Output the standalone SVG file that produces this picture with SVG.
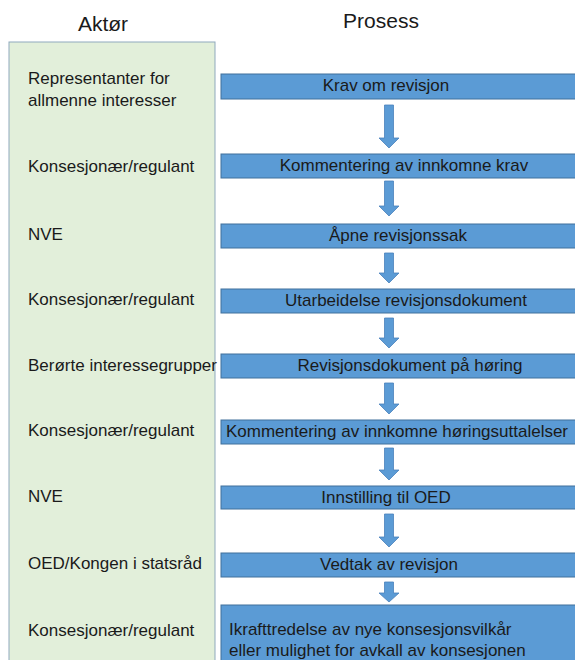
<svg xmlns="http://www.w3.org/2000/svg" width="575" height="660" viewBox="0 0 575 660">
<defs>
<style>
.t{font-family:"Liberation Sans",Arial,sans-serif;font-size:17px;fill:#1a1a1a}
.h{font-family:"Liberation Sans",Arial,sans-serif;font-size:21px;fill:#1a1a1a;text-anchor:middle}
.c{text-anchor:middle}
.box{fill:#5b9bd5;stroke:#41719c;stroke-width:1}
.arr{fill:#5b9bd5;stroke:#4a82bb;stroke-width:0.8}
</style>
</defs>
<rect width="575" height="660" fill="#ffffff"/>
<text class="h" x="103" y="31">Aktør</text>
<text class="h" x="381" y="28">Prosess</text>
<g id="actors">
<rect x="9" y="42" width="206" height="630" fill="#e2efda" stroke="#8fa9bd" stroke-width="1"/>
<text class="t" x="28" y="84">Representanter for</text>
<text class="t" x="28" y="106">allmenne interesser</text>
<text class="t" x="28" y="172">Konsesjonær/regulant</text>
<text class="t" x="28" y="240">NVE</text>
<text class="t" x="28" y="305">Konsesjonær/regulant</text>
<text class="t" x="28" y="371">Berørte interessegrupper</text>
<text class="t" x="28" y="436">Konsesjonær/regulant</text>
<text class="t" x="28" y="502">NVE</text>
<text class="t" x="28" y="569">OED/Kongen i statsråd</text>
<text class="t" x="28" y="636">Konsesjonær/regulant</text>
</g>
<g id="p1"><rect class="box" x="221" y="74" width="360" height="25"/><text class="t c" x="386" y="91">Krav om revisjon</text></g>
<g id="p2"><rect class="box" x="221" y="154" width="360" height="24"/><text class="t c" x="404" y="171">Kommentering av innkomne krav</text></g>
<g id="p3"><rect class="box" x="221" y="224" width="360" height="24"/><text class="t c" x="398" y="241">Åpne revisjonssak</text></g>
<g id="p4"><rect class="box" x="221" y="289" width="360" height="24"/><text class="t c" x="406" y="306">Utarbeidelse revisjonsdokument</text></g>
<g id="p5"><rect class="box" x="221" y="354" width="360" height="24"/><text class="t c" x="410" y="371">Revisjonsdokument på høring</text></g>
<g id="p6"><rect class="box" x="221" y="420" width="360" height="24"/><text class="t c" x="397" y="437">Kommentering av innkomne høringsuttalelser</text></g>
<g id="p7"><rect class="box" x="221" y="486" width="360" height="23"/><text class="t c" x="386" y="503">Innstilling til OED</text></g>
<g id="p8"><rect class="box" x="221" y="553" width="360" height="24"/><text class="t c" x="389" y="570">Vedtak av revisjon</text></g>
<g id="p9"><rect class="box" x="221" y="605" width="360" height="70"/><text class="t" x="229" y="635">Ikrafttredelse av nye konsesjonsvilkår</text><text class="t" x="229" y="656">eller mulighet for avkall av konsesjonen</text></g>
<g id="connectors">
<path class="arr" d="M384.5,105 H393.5 V138 H399 L389,148 L379,138 H384.5 Z"/>
<path class="arr" d="M384.5,181 H393.5 V206 H399 L389,216 L379,206 H384.5 Z"/>
<path class="arr" d="M384.5,253 H393.5 V273 H399 L389,283 L379,273 H384.5 Z"/>
<path class="arr" d="M384.5,318 H393.5 V338 H399 L389,348 L379,338 H384.5 Z"/>
<path class="arr" d="M384.5,383 H393.5 V404 H399 L389,414 L379,404 H384.5 Z"/>
<path class="arr" d="M384.5,448 H393.5 V470 H399 L389,480 L379,470 H384.5 Z"/>
<path class="arr" d="M384.5,514 H393.5 V537 H399 L389,547 L379,537 H384.5 Z"/>
<path class="arr" d="M384.5,582 H393.5 V593 H399 L389,602 L379,593 H384.5 Z"/>
</g>
</svg>
